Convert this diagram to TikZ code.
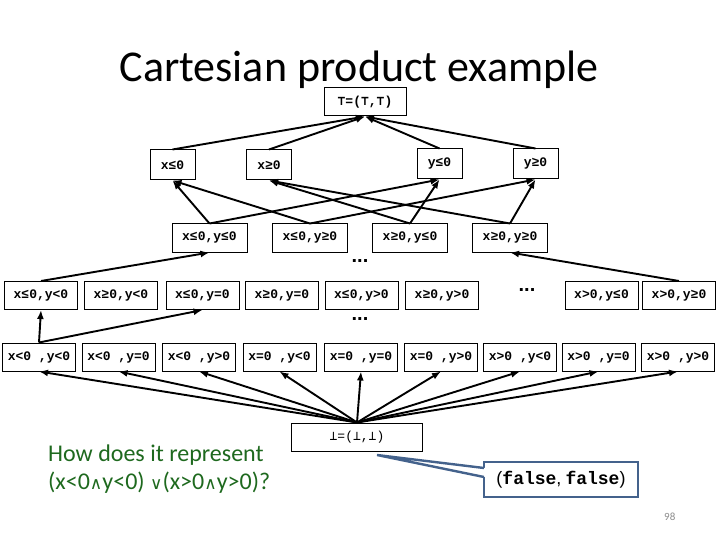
\documentclass[tikz,border=0pt]{standalone}
\usepackage{fontspec}
\setmainfont{Carlito}
\setmonofont{Liberation Mono}
\newfontfamily\symmono{DejaVu Sans Mono}
\newfontfamily\symsans{DejaVu Sans}
\newfontfamily\libsans{Liberation Sans}
\usetikzlibrary{arrows.meta,calc}
\definecolor{greentxt}{RGB}{30,105,30}
\definecolor{callblue}{RGB}{68,98,140}
\definecolor{pagenum}{RGB}{140,140,140}
\newcommand\mytop{{\symmono ⊤}}
\newcommand\mybot{{\symmono ⊥}}
\newcommand\qsym[1]{{\symsans\fontsize{17}{20}\selectfont #1}}
\begin{document}
\begin{tikzpicture}[x=1pt,y=-1pt,
  lat/.style={draw,line width=1pt,inner sep=0pt,minimum height=28pt,
    font=\ttfamily\bfseries\fontsize{13}{15}\selectfont},
  wide/.style={lat,minimum width=73pt},
  midbox/.style={lat,minimum width=75pt},
  smallbox/.style={lat,minimum width=45pt,minimum height=30pt},
  edge/.style={line width=1.9pt,-{Latex[length=9pt,width=7pt]}},
  dotsx/.style={font=\libsans\bfseries\fontsize{20}{22}\selectfont}]
\useasboundingbox (0,0) rectangle (720,540);

% title
\node[anchor=base,font=\fontsize{44}{50}\selectfont] (title) at (359,82) {Cartesian product example};

% top
\node[lat,minimum width=82pt] (top) at (365,102) {\mytop=(\mytop,\mytop)};

% level 2
\node[smallbox] (l2a) at (172.5,165) {x≤0};
\node[smallbox] (l2b) at (269,165) {x≥0};
\node[smallbox] (l2c) at (439.5,164) {y≤0};
\node[smallbox] (l2d) at (535.5,164) {y≥0};

% level 3
\node[midbox] (l3a) at (209.5,238) {x≤0,y≤0};
\node[midbox] (l3b) at (310,238) {x≤0,y≥0};
\node[midbox] (l3c) at (410,238) {x≥0,y≤0};
\node[midbox] (l3d) at (510,238) {x≥0,y≥0};

% row 4
\node[wide] (r4a) at (41,295.5) {x≤0,y<0};
\node[wide] (r4b) at (121,295.5) {x≥0,y<0};
\node[wide] (r4c) at (202.5,295.5) {x≤0,y=0};
\node[wide] (r4d) at (282,295.5) {x≥0,y=0};
\node[wide] (r4e) at (361.5,295.5) {x≤0,y>0};
\node[wide] (r4f) at (442,295.5) {x≥0,y>0};
\node[dotsx] (d3) at (527,290) {...};
\node[wide] (r4g) at (601.5,295.5) {x>0,y≤0};
\node[wide] (r4h) at (679,295.5) {x>0,y≥0};

\node[dotsx] (d1) at (360,261) {...};
\node[dotsx] (d2) at (360,319) {...};

% row 5
\node[wide] (r5a) at (39,357) {x<0 ,y<0};
\node[wide] (r5b) at (118.5,357) {x<0 ,y=0};
\node[wide] (r5c) at (199,357) {x<0 ,y>0};
\node[wide] (r5d) at (279.5,357) {x=0 ,y<0};
\node[wide] (r5e) at (361,357) {x=0 ,y=0};
\node[wide] (r5f) at (441,357) {x=0 ,y>0};
\node[wide] (r5g) at (520,357) {x>0 ,y<0};
\node[wide] (r5h) at (598.5,357) {x>0 ,y=0};
\node[wide] (r5i) at (678,357) {x>0 ,y>0};

% bottom
\node[lat,minimum width=131pt,minimum height=28pt,font=\ttfamily\fontsize{13}{15}\selectfont] (bot) at (357,437) {\mybot=(\mybot,\mybot)};

% edges
\foreach \s in {l2a,l2b,l2c,l2d} \draw[edge] (\s.north) -- (top.south);
\draw[edge] (l3a.north) -- (l2a.south);
\draw[edge] (l3a.north) -- (l2c.south);
\draw[edge] (l3b.north) -- (l2a.south);
\draw[edge] (l3b.north) -- (l2d.south);
\draw[edge] (l3c.north) -- (l2b.south);
\draw[edge] (l3c.north) -- (l2c.south);
\draw[edge] (l3d.north) -- (l2b.south);
\draw[edge] (l3d.north) -- (l2d.south);
\draw[edge] (r4a.north) -- (l3a.south);
\draw[edge] (r4h.north) -- (l3d.south);
\draw[edge] (r5a.north) -- (r4a.south);
\draw[edge] (r5a.north) -- (r4c.south);
\foreach \s in {r5a,r5b,r5c,r5d,r5e,r5f,r5g,r5h,r5i} \draw[edge] (bot.north) -- (\s.south);

% green question
\node[anchor=base west,text=greentxt,font=\fontsize{24}{28}\selectfont,inner sep=0pt] (q1) at (48,461) {How does it represent};
\node[anchor=base west,text=greentxt,font=\fontsize{24}{28}\selectfont,inner sep=0pt] (q2) at (48,489) {(x<0\qsym{∧}y<0) \qsym{∨}(x>0\qsym{∧}y>0)?};

% callout
\node[draw=callblue,line width=2.8pt,minimum width=154pt,minimum height=35pt,inner sep=0pt,
  font=\fontsize{18}{21}\selectfont] (cb) at (561,479.5)
  {{\libsans (}{\ttfamily\bfseries false}{\libsans ,} {\ttfamily\bfseries false}{\libsans )}};
\coordinate (tip) at (377,455);
\fill[white] (tip) -- ($(cb.west)+(2.5,-11.5)$) -- ($(cb.west)+(2.5,-2.5)$) -- cycle;
\draw[callblue,line width=2.4pt,line join=miter] ($(cb.west)+(1.4,-11.5)$) -- (tip) -- ($(cb.west)+(1.4,-2.5)$);

% page number
\node[anchor=base west,text=pagenum,font=\fontsize{11}{13}\selectfont,inner sep=0pt] (pn) at (664,520) {98};
\end{tikzpicture}
\end{document}
